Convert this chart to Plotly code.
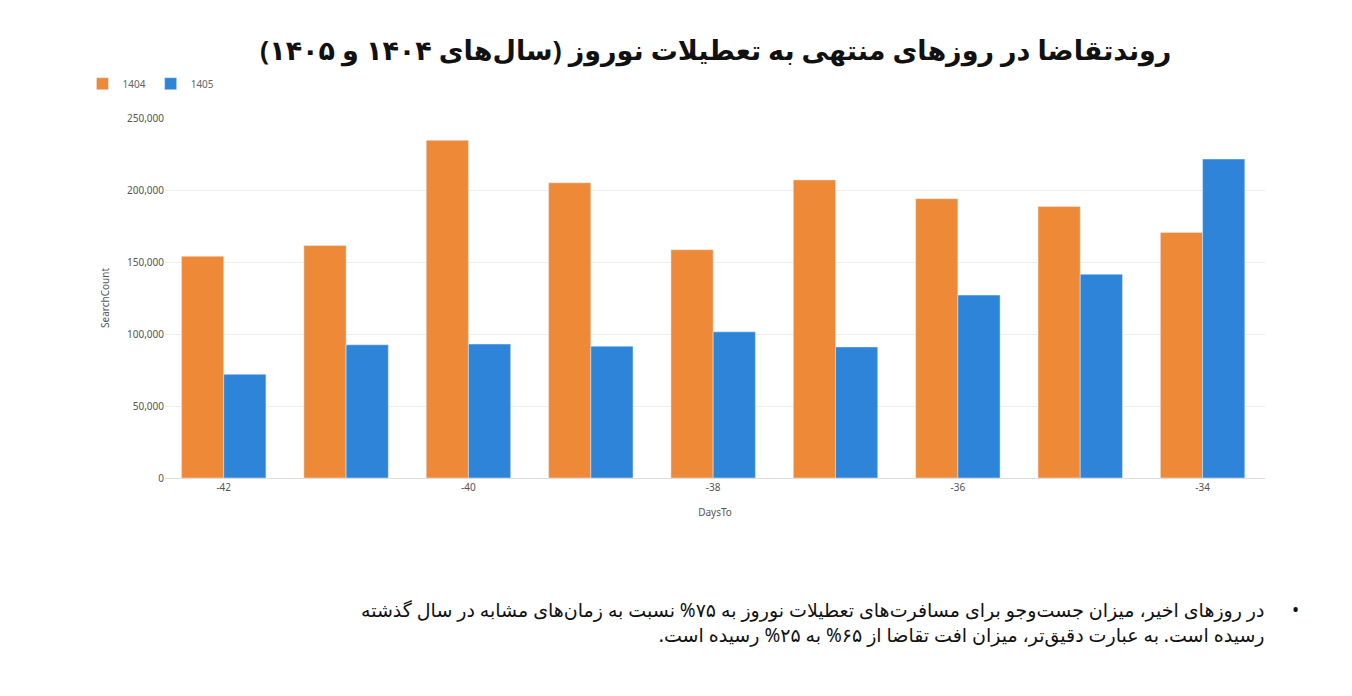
import plotly.graph_objects as go

days = [-42, -41, -40, -39, -38, -37, -36, -35, -34]
s1404 = [154000, 161500, 234500, 205000, 158500, 207000, 194000, 188500, 170500]
s1405 = [72000, 92500, 93000, 91500, 101500, 91000, 127000, 141500, 221500]
tickvals = [-42, -40, -38, -36, -34]

fig = go.Figure()
fig.add_bar(x=days, y=s1404, name="1404", marker_color="#EE8A37")
fig.add_bar(x=days, y=s1405, name="1405", marker_color="#2D84D8")

title = "روندتقاضا در روزهای منتهی به تعطیلات نوروز (سال‌های ۱۴۰۴ و ۱۴۰۵)"
line1 = "\u202bدر روزهای اخیر، میزان جست‌وجو برای مسافرت‌های تعطیلات نوروز به ۷۵% نسبت به زمان‌های مشابه در سال گذشته\u202c"
line2 = "\u202bرسیده است. به عبارت دقیق‌تر، میزان افت تقاضا از ۶۵% به ۲۵% رسیده است.\u202c"

fig.update_layout(
    width=1352, height=696, paper_bgcolor="white", plot_bgcolor="white",
    margin=dict(l=157, r=95, t=110, b=226, autoexpand=False),
    barmode="group", bargap=0.31, bargroupgap=0.0,
    font=dict(family="Noto Sans, DejaVu Sans", color="#555"),
    legend=dict(orientation="h", x=-0.075, y=1.055, xanchor="left", yanchor="bottom",
                font=dict(size=10, color="#666"), itemwidth=30),
    xaxis=dict(tickvals=tickvals, ticktext=[str(v) for v in tickvals], range=[-42.48, -33.49],
               title=dict(text="DaysTo", font=dict(size=10)), tickfont=dict(size=10),
               showline=True, linecolor="#ddd", showgrid=False),
    yaxis=dict(range=[0, 250000], tickvals=[0, 50000, 100000, 150000, 200000, 250000],
               tickformat=",", tickfont=dict(size=10), gridcolor="#eee",
               title=dict(text="SearchCount", font=dict(size=10)), zeroline=False),
    annotations=[
        dict(text="<b>" + title + "</b>", xref="paper", yref="paper", x=0.5, y=1.0,
             xanchor="center", yanchor="bottom", yshift=48, showarrow=False,
             font=dict(size=27, color="#111", family="Noto Sans, DejaVu Sans")),
        dict(text=line1 + "<br>" + line2, xref="paper", yref="paper", x=1.0, y=-0.325,
             xanchor="right", yanchor="top", xshift=2,
             align="right", showarrow=False, font=dict(size=19, color="#111")),
        dict(text="•", xref="paper", yref="paper", x=1.0, y=-0.325, xanchor="left", yanchor="top",
             xshift=25, showarrow=False, font=dict(size=19, color="#111")),
    ],
)
fig.write_html("out.html")
